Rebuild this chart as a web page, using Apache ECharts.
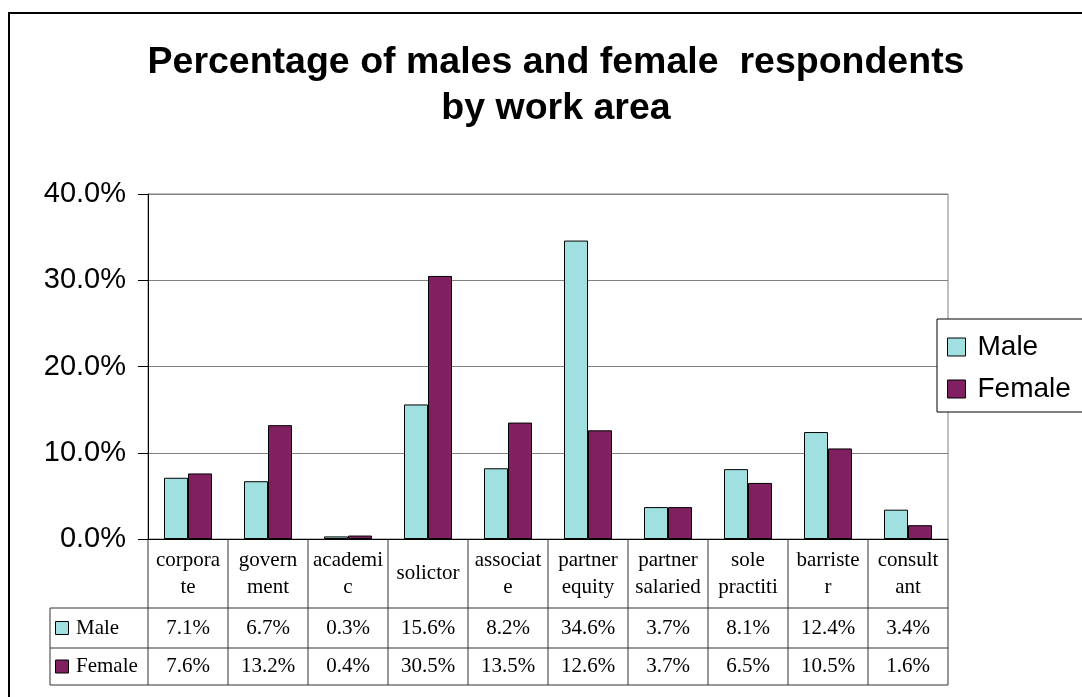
<!DOCTYPE html>
<html>
<head>
<meta charset="utf-8">
<title>Percentage of males and female respondents by work area</title>
<script src="https://cdn.jsdelivr.net/npm/echarts@6/dist/echarts.min.js"></script>
<style>
  html, body { margin: 0; padding: 0; background: #fff; }
  #chart { width: 1082px; height: 697px; }
</style>
</head>
<body>
<div id="chart"></div>
<script>
// Work areas (full names) and the wrapped header text shown in the data table
const categories = ['corporate', 'government', 'academic', 'solictor', 'associate',
  'partner equity', 'partner salaried', 'sole practiti', 'barrister', 'consultant'];
const headerLabels = ['corpora\nte', 'govern\nment', 'academi\nc', 'solictor', 'associat\ne',
  'partner\nequity', 'partner\nsalaried', 'sole\npractiti', 'barriste\nr', 'consult\nant'];

// Share of respondents (%) per work area
const maleValues = [7.1, 6.7, 0.3, 15.6, 8.2, 34.6, 3.7, 8.1, 12.4, 3.4];
const femaleValues = [7.6, 13.2, 0.4, 30.5, 13.5, 12.6, 3.7, 6.5, 10.5, 1.6];

const seriesNames = ['Male', 'Female'];
const seriesColors = ['#A0E0E0', '#802060'];

const yTicks = { min: 0, max: 40, interval: 10 };

const pct = v => v.toFixed(1) + '%';

const SANS = 'Liberation Sans, Arial, sans-serif';
const SERIF = 'Liberation Serif, Times New Roman, serif';

const chart = echarts.init(document.getElementById('chart'), null, { renderer: 'canvas' });

const GRID = { left: 148, top: 194, width: 800, height: 345 };

chart.setOption({
  animation: false,
  backgroundColor: '#fff',
  title: {
    text: 'Percentage of males and female  respondents\nby work area',
    left: 551,
    top: 35,
    textAlign: 'center',
    textStyle: {
      fontFamily: SANS,
      fontWeight: 'bold',
      fontSize: 37.5,
      lineHeight: 46,
      color: '#000'
    }
  },
  legend: {
    orient: 'vertical',
    left: 937,
    top: 319,
    padding: [13, 30, 8, 10],
    itemGap: 12,
    itemWidth: 18,
    itemHeight: 18,
    backgroundColor: '#fff',
    borderColor: '#000',
    borderWidth: 1,
    textStyle: {
      fontFamily: SANS,
      fontSize: 28,
      lineHeight: 30,
      color: '#000',
      padding: [0, 0, 0, 7]
    },
    data: seriesNames.map(n => ({ name: n, icon: 'rect', itemStyle: { borderColor: '#000', borderWidth: 1 } }))
  },
  grid: Object.assign({ containLabel: false, show: true, borderColor: '#808080', borderWidth: 1 }, GRID),
  xAxis: {
    type: 'category',
    data: categories,
    axisLine: { lineStyle: { color: '#000', width: 1 } },
    axisTick: { show: false },
    axisLabel: { show: false },
    splitLine: { show: false }
  },
  yAxis: {
    type: 'value',
    min: yTicks.min,
    max: yTicks.max,
    interval: yTicks.interval,
    axisLine: { show: true, lineStyle: { color: '#000', width: 1 } },
    axisTick: { show: true, length: 10, lineStyle: { color: '#000' } },
    axisLabel: {
      formatter: pct,
      margin: 22,
      fontFamily: SANS,
      fontSize: 29,
      color: '#000'
    },
    splitLine: { show: true, lineStyle: { color: '#808080', width: 1 } }
  },
  series: [
    {
      name: seriesNames[0], type: 'bar', data: maleValues,
      barGap: '0%', barCategoryGap: '40%',
      itemStyle: { color: seriesColors[0], borderColor: '#000', borderWidth: 1 }
    },
    {
      name: seriesNames[1], type: 'bar', data: femaleValues,
      barGap: '0%', barCategoryGap: '40%',
      itemStyle: { color: seriesColors[1], borderColor: '#000', borderWidth: 1 }
    }
  ]
});

// Data table under the plot, aligned to the category bands of the x axis
function buildTable() {
  const g = [];
  const lineColor = '#333';
  const y0 = chart.convertToPixel({ yAxisIndex: 0 }, 0);
  const rowTops = [y0, y0 + 69, y0 + 109, y0 + 146];
  const half = (chart.convertToPixel({ xAxisIndex: 0 }, categories[1]) -
                chart.convertToPixel({ xAxisIndex: 0 }, categories[0])) / 2;
  const centers = categories.map(c => chart.convertToPixel({ xAxisIndex: 0 }, c));
  const xr = centers[centers.length - 1] + half;
  const legendLeft = 50;

  const line = (x1, y1, x2, y2) => g.push({
    type: 'line', silent: true,
    shape: { x1, y1, x2, y2 },
    style: { stroke: lineColor, lineWidth: 1 }
  });

  // horizontal rules
  line(legendLeft, rowTops[1], xr, rowTops[1]);
  line(legendLeft, rowTops[2], xr, rowTops[2]);
  line(legendLeft, rowTops[3], xr, rowTops[3]);
  // vertical rules
  line(legendLeft, rowTops[1], legendLeft, rowTops[3]);
  centers.forEach(c => line(c - half, rowTops[0], c - half, rowTops[3]));
  line(xr, rowTops[0], xr, rowTops[3]);

  const text = (x, y, s, align) => g.push({
    type: 'text', silent: true, x, y,
    style: {
      text: s, fill: '#000', font: '21px ' + SERIF,
      align: align || 'center', verticalAlign: 'middle', lineHeight: 27
    }
  });

  centers.forEach((c, i) => {
    text(c, (rowTops[0] + rowTops[1]) / 2, headerLabels[i]);
    text(c, (rowTops[1] + rowTops[2]) / 2, pct(maleValues[i]));
    text(c, (rowTops[2] + rowTops[3]) / 2, pct(femaleValues[i]));
  });

  // series keys in the first column
  [0, 1].forEach(k => {
    const cy = (rowTops[k + 1] + rowTops[k + 2]) / 2;
    g.push({
      type: 'rect', silent: true,
      shape: { x: 55.5, y: cy - 6.5, width: 13, height: 13 },
      style: { fill: seriesColors[k], stroke: '#000', lineWidth: 1 }
    });
    text(76, cy, seriesNames[k], 'left');
  });

  // outer frame of the chart area
  g.push({
    type: 'rect', silent: true, z: 100,
    shape: { x: 9, y: 13, width: 1200, height: 800 },
    style: { fill: 'none', stroke: '#000', lineWidth: 2 }
  });

  chart.setOption({ graphic: g });
}
buildTable();
</script>
</body>
</html>
